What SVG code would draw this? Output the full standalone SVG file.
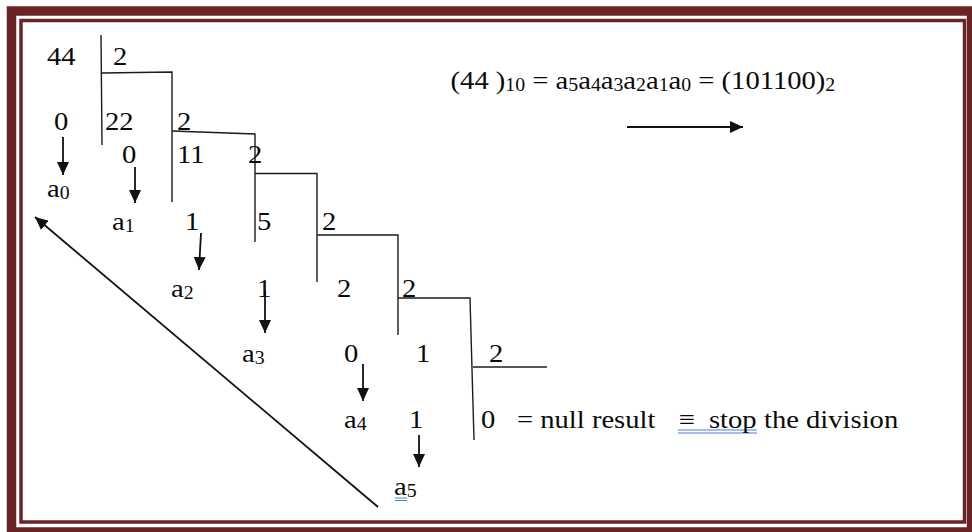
<svg xmlns="http://www.w3.org/2000/svg" width="972" height="532" viewBox="0 0 972 532">
  <style>
    .frame-outer { fill: none; stroke: #692425; stroke-width: 9.5; }
    .frame-inner { fill: none; stroke: #692425; stroke-width: 3.5; }
    .rule { fill: none; stroke: #1c1c1c; stroke-width: 1.4; }
    .arrow { fill: none; stroke: #111; stroke-width: 1.8; marker-end: url(#head); }
    .txt { font-family: 'Liberation Serif', 'Times New Roman', serif; font-size: 26px; fill: #0a0a0a; }
    .sub { font-size: 18px; }
    .uline { stroke: #4a7fdc; stroke-width: 1.1; fill: none; }
  </style>
  <defs>
    <marker id="head" viewBox="0 0 13 12" refX="13" refY="6" markerWidth="13" markerHeight="12" markerUnits="userSpaceOnUse" orient="auto">
      <path d="M0,0 L13,6 L0,12 Z" fill="#111"/>
    </marker>
  </defs>

  <rect width="972" height="532" fill="#ffffff"/>

  <!-- double border -->
  <g id="frame">
    <rect class="frame-outer" x="11.5" y="11" width="960" height="521"/>
    <rect class="frame-inner" x="21" y="20.5" width="943.5" height="501.5"/>
  </g>

  <!-- division brackets -->
  <g id="brackets" class="rule">
    <path d="M101,35 L102,145"/>
    <path d="M102,73 L172,72 L172,202"/>
    <path d="M172,131 L255,134 L255,242"/>
    <path d="M255,173.5 L317,173.5 L317,282"/>
    <path d="M317,235 L398,235 L398,335"/>
    <path d="M398,298 L470,298 L474,440"/>
    <path d="M473,367 L547,367"/>
  </g>

  <!-- connectors -->
  <g id="connectors">
    <path class="arrow" d="M63,137 L63,175"/>
    <path class="arrow" d="M135,167 L135,203"/>
    <path class="arrow" d="M201,233 L199,270"/>
    <path class="arrow" d="M265,291 L265,333"/>
    <path class="arrow" d="M363,364 L363,401"/>
    <path class="arrow" d="M419,435 L419,467"/>
    <path class="arrow" d="M378,507 L35,217"/>
    <path class="arrow" d="M627,127 L743,127"/>
  </g>

  <!-- blue double underlines -->
  <g id="underlines" class="uline">
    <path d="M395,498 L407,498 M395,500.5 L407,500.5"/>
    <path d="M678,430 L757,430 M678,433 L757,433"/>
  </g>

  <!-- all lettering, set slightly wide -->
  <g id="labels" class="txt" transform="scale(1.1 1)">
    <g id="step-44">
      <text x="42.7" y="65">44</text>
      <text x="102.7" y="65">2</text>
      <text x="49.1" y="130">0</text>
      <text x="42.7" y="197">a<tspan class="sub" dy="2">0</tspan></text>
    </g>
    <g id="step-22">
      <text x="95.5" y="130">22</text>
      <text x="160.9" y="130">2</text>
      <text x="110.9" y="163">0</text>
      <text x="101.8" y="230">a<tspan class="sub" dy="2">1</tspan></text>
    </g>
    <g id="step-11">
      <text x="160.9" y="163">11</text>
      <text x="225.5" y="163">2</text>
      <text x="168.2" y="230">1</text>
      <text x="155.5" y="297">a<tspan class="sub" dy="2">2</tspan></text>
    </g>
    <g id="step-5">
      <text x="233.6" y="230">5</text>
      <text x="292.7" y="230">2</text>
      <text x="233.6" y="297">1</text>
      <text x="220" y="362">a<tspan class="sub" dy="2">3</tspan></text>
    </g>
    <g id="step-2">
      <text x="306.4" y="297">2</text>
      <text x="365.5" y="297">2</text>
      <text x="312.7" y="362">0</text>
      <text x="312.7" y="428">a<tspan class="sub" dy="2">4</tspan></text>
    </g>
    <g id="step-1">
      <text x="378.2" y="362">1</text>
      <text x="444.5" y="362">2</text>
      <text x="371.8" y="428">1</text>
      <text x="358.2" y="495">a<tspan class="sub" dy="2">5</tspan></text>
    </g>
    <g id="step-0">
      <text x="437.3" y="428">0</text>
      <text y="428"><tspan x="470">= null result</tspan><tspan x="617.3">≡</tspan><tspan x="644.5">stop</tspan><tspan x="694.5">the division</tspan></text>
    </g>
    <g id="result">
      <text x="409.6" y="89">(44 )<tspan class="sub" dy="2.5">10</tspan><tspan dy="-2.5"> = a</tspan><tspan class="sub" dy="2.5">5</tspan><tspan dy="-2.5">a</tspan><tspan class="sub" dy="2.5">4</tspan><tspan dy="-2.5">a</tspan><tspan class="sub" dy="2.5">3</tspan><tspan dy="-2.5">a</tspan><tspan class="sub" dy="2.5">2</tspan><tspan dy="-2.5">a</tspan><tspan class="sub" dy="2.5">1</tspan><tspan dy="-2.5">a</tspan><tspan class="sub" dy="2.5">0</tspan><tspan dy="-2.5"> = (101100)</tspan><tspan class="sub" dy="2.5">2</tspan></text>
    </g>
  </g>
</svg>
